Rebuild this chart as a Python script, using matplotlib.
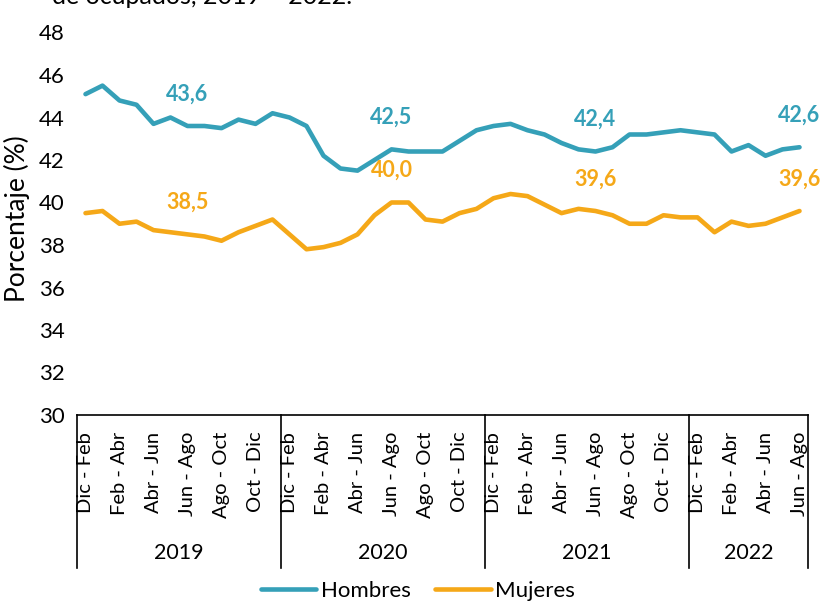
import matplotlib
matplotlib.use("Agg")
import matplotlib.pyplot as plt
from matplotlib.transforms import blended_transform_factory

plt.rcParams['font.family'] = ['Lato', 'DejaVu Sans']

years = ["2019", "2020", "2021", "2022"]
year_counts = [12, 12, 12, 7]
period_labels = ["Dic - Feb", "Feb - Abr", "Abr - Jun", "Jun - Ago", "Ago - Oct", "Oct - Dic"]

hombres = [45.1, 45.5, 44.8, 44.6, 43.7, 44.0, 43.6, 43.6, 43.5, 43.9, 43.7, 44.2,
           44.0, 43.6, 42.2, 41.6, 41.5, 42.0, 42.5, 42.4, 42.4, 42.4, 42.9, 43.4,
           43.6, 43.7, 43.4, 43.2, 42.8, 42.5, 42.4, 42.6, 43.2, 43.2, 43.3, 43.4,
           43.3, 43.2, 42.4, 42.7, 42.2, 42.5, 42.6]
mujeres = [39.5, 39.6, 39.0, 39.1, 38.7, 38.6, 38.5, 38.4, 38.2, 38.6, 38.9, 39.2,
           38.5, 37.8, 37.9, 38.1, 38.5, 39.4, 40.0, 40.0, 39.2, 39.1, 39.5, 39.7,
           40.2, 40.4, 40.3, 39.9, 39.5, 39.7, 39.6, 39.4, 39.0, 39.0, 39.4, 39.3,
           39.3, 38.6, 39.1, 38.9, 39.0, 39.3, 39.6]
label_idx = [6, 18, 30, 42]

c_h = "#35A0B8"
c_m = "#F5A818"

W, H = 823, 602
fig = plt.figure(figsize=(W / 100, H / 100), dpi=100)
ax = fig.add_axes([77 / W, 1 - 415 / H, (808 - 77) / W, (415 - 32.5) / H])

n = len(hombres)
x = list(range(n))
ax.plot(x, hombres, color=c_h, lw=3.3, solid_capstyle='round', solid_joinstyle='round', label="Hombres")
ax.plot(x, mujeres, color=c_m, lw=3.3, solid_capstyle='round', solid_joinstyle='round', label="Mujeres")

for i in label_idx:
    ax.annotate(f"{hombres[i]:.1f}".replace('.', ','), (i, hombres[i]), xytext=(0, 32),
                textcoords='offset pixels', ha='center', va='center', color=c_h,
                fontsize=15.5, fontweight='bold', annotation_clip=False)
    ax.annotate(f"{mujeres[i]:.1f}".replace('.', ','), (i, mujeres[i]), xytext=(0, 32),
                textcoords='offset pixels', ha='center', va='center', color=c_m,
                fontsize=15.5, fontweight='bold', annotation_clip=False)

ax.set_xlim(-0.5, n - 0.5)
ax.set_ylim(30, 48)
ax.set_yticks(range(30, 49, 2))
ax.tick_params(axis='y', length=0, labelsize=16, pad=9)

ticks, tlabels = [], []
start = 0
for cnt in year_counts:
    for k in range(0, cnt, 2):
        ticks.append(start + k)
        tlabels.append(period_labels[k // 2])
    start += cnt
ax.set_xticks(ticks)
ax.set_xticklabels(tlabels, rotation=90, ha='center', va='top', fontsize=14.5)
ax.tick_params(axis='x', length=0, pad=12)

for s in ['top', 'right', 'left']:
    ax.spines[s].set_visible(False)
ax.spines['bottom'].set_color('black')
ax.spines['bottom'].set_linewidth(1.2)

tr = blended_transform_factory(ax.transData, ax.transAxes)
ah = 415 - 32.5
ybot = -(568 - 415) / ah
ylab = -(553 - 415) / ah
start = 0
bounds = [-0.5]
for cnt in year_counts:
    bounds.append(start + cnt - 0.5)
    start += cnt
for b in bounds:
    ax.plot([b, b], [0, ybot], color='black', lw=1.2, transform=tr, clip_on=False)
for j, yr in enumerate(years):
    ax.text((bounds[j] + bounds[j + 1]) / 2, ylab, yr, transform=tr, ha='center', va='center', fontsize=15.5)

fig.text(17 / W, 1 - 219 / H, "Porcentaje (%)", rotation=90, ha='center', va='center', fontsize=19)

fig.text(52 / W, 1 - 4 / H, "de ocupados, 2019 – 2022.", ha='left', va='baseline', fontsize=18)

fig.legend(loc='center', bbox_to_anchor=(418 / W, 1 - 591 / H), ncol=2, frameon=False,
           fontsize=16, handlelength=2.5, handletextpad=0.2, columnspacing=1.1,
           borderpad=0, borderaxespad=0)

fig.savefig("out.png", dpi=100)
